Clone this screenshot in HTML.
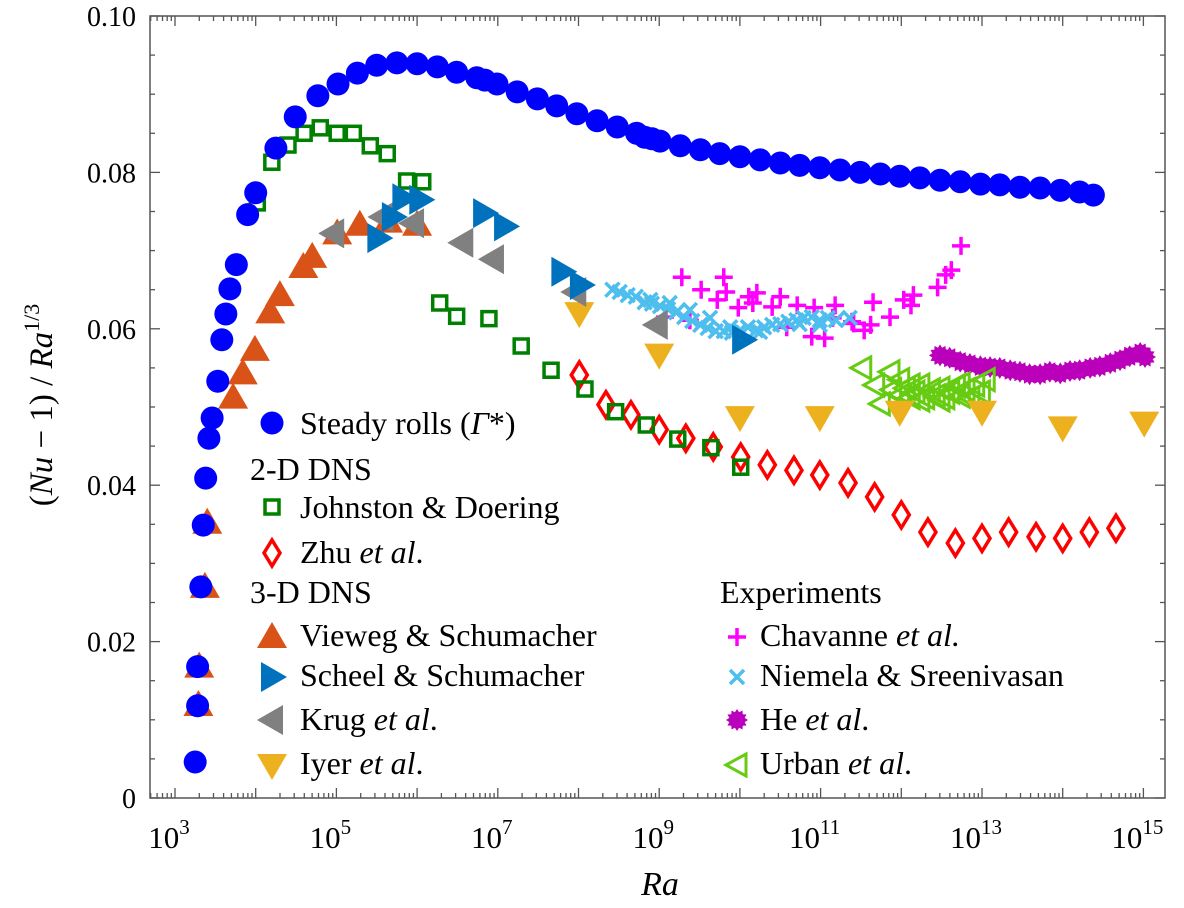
<!DOCTYPE html>
<html><head><meta charset="utf-8"><style>
html,body{margin:0;padding:0;background:#fff;}
svg{display:block;font-family:"Liberation Serif",serif;}
</style></head><body>
<svg id="chart" width="1184" height="908" viewBox="0 0 1184 908" xmlns="http://www.w3.org/2000/svg"></svg>
<script>
// Data: log10(Ra) values and (Nu-1)/Ra^(1/3) values
const steadyRa=[3.25,3.28,3.28,3.32,3.35,3.38,3.42,3.46,3.53,3.58,3.63,3.68,3.76,3.90,4.00,4.25,4.49,4.77,5.02,5.26,5.50,5.75,6.00,6.25,6.49,6.74,6.84,6.99,7.24,7.49,7.73,7.98,8.23,8.48,8.72,8.82,8.91,9.01,9.26,9.51,9.75,10.0,10.25,10.5,10.74,10.99,11.24,11.49,11.74,11.98,12.23,12.48,12.73,12.98,13.22,13.47,13.72,13.97,14.21,14.38];
const steadyVal=[0.0046,0.0118,0.0168,0.0270,0.0349,0.0409,0.0460,0.0486,0.0533,0.0586,0.0619,0.0651,0.0682,0.0746,0.0774,0.0831,0.0871,0.0898,0.0913,0.0927,0.0937,0.0940,0.0939,0.0935,0.0928,0.0921,0.0918,0.0913,0.0903,0.0894,0.0885,0.0875,0.0866,0.0858,0.0850,0.0845,0.0843,0.0840,0.0834,0.0829,0.0824,0.0820,0.0816,0.0812,0.0809,0.0806,0.0803,0.0800,0.0798,0.0795,0.0793,0.0790,0.0788,0.0785,0.0784,0.0781,0.0780,0.0777,0.0775,0.0771];
const johnstonRa=[4.02,4.20,4.40,4.60,4.80,5.01,5.21,5.42,5.63,5.87,6.07,6.28,6.49,6.89,7.29,7.66,8.08,8.46,8.84,9.23,9.64,10.01];
const johnstonVal=[0.0761,0.0813,0.0835,0.0850,0.0857,0.0850,0.0850,0.0834,0.0824,0.0789,0.0788,0.0633,0.0616,0.0613,0.0578,0.0547,0.0523,0.0494,0.0477,0.0459,0.0448,0.0423];
const zhuRa=[8.01,8.34,8.65,9.00,9.33,9.67,10.01,10.34,10.67,10.99,11.34,11.67,12.00,12.33,12.67,13.00,13.33,13.67,14.00,14.33,14.66];
const zhuVal=[0.0541,0.0503,0.0490,0.0471,0.0460,0.0449,0.0436,0.0426,0.0419,0.0413,0.0403,0.0385,0.0362,0.0340,0.0326,0.0332,0.0340,0.0334,0.0332,0.0340,0.0345];
const viewegRa=[3.29,3.30,3.37,3.40,3.72,3.84,3.99,4.18,4.30,4.59,4.70,5.01,5.29,5.64,6.00];
const viewegVal=[0.0119,0.0168,0.0270,0.0352,0.0512,0.0543,0.0573,0.0621,0.0643,0.0679,0.0692,0.0722,0.0733,0.0737,0.0733];
const scheelRa=[5.52,5.70,5.83,6.04,6.83,7.09,7.80,8.03,10.04];
const scheelVal=[0.0716,0.0743,0.0767,0.0765,0.0748,0.0731,0.0673,0.0656,0.0586];
const krugRa=[4.96,5.57,5.95,6.56,6.94,7.96,8.97];
const krugVal=[0.0722,0.0743,0.0735,0.0710,0.0689,0.0647,0.0605];
const iyerRa=[8.01,9.00,10.00,10.99,11.98,13.00,14.00,15.01];
const iyerVal=[0.0620,0.0567,0.0487,0.0487,0.0494,0.0494,0.0474,0.0480];
const chavRa=[9.28,9.80,9.52,9.72,9.83,10.11,10.16,9.98,10.21,10.50,10.40,10.71,10.92,11.18,11.15,10.89,10.58,9.38,9.07,11.65,11.86,11.62,11.54,11.41,12.03,12.15,12.12,12.45,12.55,12.62,12.74,11.05,11.39];
const chavVal=[0.0666,0.0666,0.0650,0.0637,0.0647,0.0641,0.0633,0.0627,0.0646,0.0641,0.0628,0.0630,0.0627,0.0630,0.0614,0.0590,0.0602,0.0611,0.0615,0.0634,0.0615,0.0605,0.0598,0.0607,0.0637,0.0643,0.0630,0.0653,0.0669,0.0675,0.0706,0.0588,0.0609];
const niemRa=[8.42,8.51,8.61,8.71,8.82,8.91,9.01,9.11,9.21,9.31,9.41,9.51,9.60,9.70,9.80,9.90,10.00,10.10,10.20,10.30,10.40,10.50,10.60,10.70,10.79,10.89,10.99,11.09,11.19,11.36,8.89,9.13,9.38,9.63,9.88,10.25,10.74,10.99];
const niemVal=[0.0650,0.0647,0.0643,0.0641,0.0634,0.0632,0.0629,0.0625,0.0621,0.0615,0.0610,0.0605,0.0601,0.0597,0.0597,0.0595,0.0598,0.0602,0.0598,0.0602,0.0605,0.0606,0.0609,0.0611,0.0614,0.0615,0.0611,0.0614,0.0611,0.0614,0.0637,0.0633,0.0624,0.0614,0.0602,0.0596,0.0606,0.0605];
const heRa=[12.48,12.60,12.73,12.85,12.98,13.10,13.22,13.35,13.47,13.59,13.72,13.84,13.97,14.09,14.21,14.34,14.46,14.59,14.71,14.83,14.96,15.02];
const heVal=[0.0566,0.0563,0.0558,0.0555,0.0552,0.0551,0.0550,0.0547,0.0545,0.0542,0.0542,0.0545,0.0543,0.0546,0.0547,0.0550,0.0552,0.0556,0.0560,0.0565,0.0569,0.0564];
const urbanRa=[11.51,11.67,11.74,11.86,11.88,11.98,12.05,12.11,12.17,12.23,12.29,12.36,12.42,12.48,12.54,12.60,12.67,12.73,12.79,12.85,12.91,12.98,13.04,11.98,12.11,12.23,12.48,12.73];
const urbanVal=[0.0550,0.0528,0.0504,0.0545,0.0522,0.0515,0.0524,0.0512,0.0519,0.0528,0.0512,0.0522,0.0514,0.0524,0.0512,0.0519,0.0527,0.0514,0.0522,0.0512,0.0528,0.0519,0.0535,0.0535,0.0528,0.0509,0.0509,0.0529];
const yTicks=[0,0.02,0.04,0.06,0.08,0.10];
const yTickLabels=["0","0.02","0.04","0.06","0.08","0.10"];
const xLabelExps=[3,5,7,9,11,13,15];

const NS="http://www.w3.org/2000/svg";
const svg=document.getElementById('chart');
const L=150,R=1165,T=16,B=798;
function X(lx){return 175+(lx-3)*80.7;}
function Y(v){return 798-v*7820;}
function el(tag,attrs,parent){const e=document.createElementNS(NS,tag);for(const k in attrs)e.setAttribute(k,attrs[k]);(parent||svg).appendChild(e);return e;}

const frame=el('rect',{x:L,y:T,width:R-L,height:B-T,fill:'none',stroke:'#555','stroke-width':1.5});


const ticks=el('g',{stroke:'#555','stroke-width':1.3});


for(let v=0;v<=0.1001;v+=0.005){
  const y=Y(v);const major=Math.abs(v/0.02-Math.round(v/0.02))<1e-6;const len=major?10:5;
  el('line',{x1:L,y1:y,x2:L+len,y2:y},ticks);el('line',{x1:R,y1:y,x2:R-len,y2:y},ticks);
}
for(let d=2;d<=15;d++){
  for(let m=1;m<10;m++){
    const lx=d+Math.log10(m);const x=X(lx);if(x<L||x>R)continue;const len=m===1?10:5;
    el('line',{x1:x,y1:B,x2:x,y2:B-len},ticks);el('line',{x1:x,y1:T,x2:x,y2:T+len},ticks);
  }
}
yTicks.forEach((v,i)=>{const t=el('text',{x:136,y:Y(v)+10,'text-anchor':'end','font-size':28,fill:'#000'});t.textContent=yTickLabels[i];

});
xLabelExps.forEach(e=>{const t=el('text',{x:X(e)-6,y:848,'text-anchor':'middle','font-size':31,fill:'#000'});t.textContent='10';const s=el('tspan',{dy:-14,'font-size':21},t);s.textContent=e;

});
const xt=el('text',{x:660,y:895,'text-anchor':'middle','font-size':34,'font-style':'italic'});xt.textContent='Ra';


const yt=el('text',{x:0,y:0,'text-anchor':'middle','font-size':33,transform:'translate(52,405) rotate(-90)'});
yt.innerHTML='(<tspan font-style="italic">Nu</tspan> − 1) / <tspan font-style="italic">Ra</tspan><tspan dy="-13" font-size="22">1/3</tspan>';



function marker(type,x,y,g){
  switch(type){
    case 'circle':return el('circle',{cx:x,cy:y,r:11.5,fill:'#0000ff'},g);
    case 'square':return el('rect',{x:x-7,y:y-7,width:14,height:14,fill:'none',stroke:'#008000','stroke-width':3.5},g);
    case 'diamond':return el('polygon',{points:`${x},${y-13} ${x+8},${y} ${x},${y+13} ${x-8},${y}`,fill:'none',stroke:'#ff0000','stroke-width':3.5},g);
    case 'up':return el('polygon',{points:`${x},${y-15} ${x+15},${y+11} ${x-15},${y+11}`,fill:'#d95319'},g);
    case 'right':return el('polygon',{points:`${x+15},${y} ${x-11},${y-15} ${x-11},${y+15}`,fill:'#0072bd'},g);
    case 'left':return el('polygon',{points:`${x-15},${y} ${x+11},${y-15} ${x+11},${y+15}`,fill:'#808080'},g);
    case 'down':return el('polygon',{points:`${x},${y+15} ${x+15},${y-11} ${x-15},${y-11}`,fill:'#edb120'},g);
    case 'plus':return el('path',{d:`M${x-9},${y}H${x+9}M${x},${y-9}V${y+9}`,stroke:'#ff00ff','stroke-width':3.5,fill:'none'},g);
    case 'cross':return el('path',{d:`M${x-7},${y-7}L${x+7},${y+7}M${x-7},${y+7}L${x+7},${y-7}`,stroke:'#4dbeee','stroke-width':3.5,fill:'none'},g);
    case 'star':{let p=[];for(let i=0;i<24;i++){const r=i%2?8:11;const a=i*Math.PI/12;p.push((x+r*Math.cos(a)).toFixed(1)+','+(y+r*Math.sin(a)).toFixed(1));}return el('polygon',{points:p.join(' '),fill:'#bb00bb'},g);}
    case 'openleft':return el('polygon',{points:`${x-11},${y} ${x+9},${y-11} ${x+9},${y+11}`,fill:'none',stroke:'#66cc11','stroke-width':3},g);
  }
}
function series(name,type,xs,vs){
  const g=el('g',{});
  
  
  xs.forEach((lx,i)=>{const m=marker(type,X(lx),Y(vs[i]),g);
  
  });
}
series('chavanne-series','plus',chavRa,chavVal);
series('niemela-series','cross',niemRa,niemVal);
series('he-series','star',heRa,heVal);
series('urban-series','openleft',urbanRa,urbanVal);
series('iyer-series','down',iyerRa,iyerVal);
series('zhu-series','diamond',zhuRa,zhuVal);
series('johnston-series','square',johnstonRa,johnstonVal);
series('vieweg-series','up',viewegRa,viewegVal);
series('krug-series','left',krugRa,krugVal);
series('scheel-series','right',scheelRa,scheelVal);
series('steady-rolls-series','circle',steadyRa,steadyVal);

const lg=el('g',{});


function ltext(x,y,html,name){const t=el('text',{x:x,y:y,'font-size':32,fill:'#000'},lg);t.innerHTML=html;

}
marker('circle',272,423,lg);ltext(300,434,'Steady rolls (<tspan font-style="italic">Γ</tspan>*)','legend-steady-rolls');
ltext(250,480,'2-D DNS','legend-2d-heading');
marker('square',272,507,lg);ltext(300,518,'Johnston &amp; Doering','legend-johnston');
marker('diamond',272,553,lg);ltext(300,563,'Zhu <tspan font-style="italic">et al</tspan>.','legend-zhu');
ltext(250,603,'3-D DNS','legend-3d-heading');
marker('up',272,637,lg);ltext(300,646,'Vieweg &amp; Schumacher','legend-vieweg');
marker('right',272,677,lg);ltext(300,686,'Scheel &amp; Schumacher','legend-scheel');
marker('left',272,720,lg);ltext(300,730,'Krug <tspan font-style="italic">et al</tspan>.','legend-krug');
marker('down',272,765,lg);ltext(300,774,'Iyer <tspan font-style="italic">et al</tspan>.','legend-iyer');
ltext(720,603,'Experiments','legend-experiments-heading');
marker('plus',737,637,lg);ltext(760,646,'Chavanne <tspan font-style="italic">et al.</tspan>','legend-chavanne');
marker('cross',737,677,lg);ltext(760,686,'Niemela &amp; Sreenivasan','legend-niemela');
marker('star',737,720,lg);ltext(760,730,'He <tspan font-style="italic">et al</tspan>.','legend-he');
marker('openleft',737,765,lg);ltext(760,774,'Urban <tspan font-style="italic">et al</tspan>.','legend-urban');
</script>
</body></html>
